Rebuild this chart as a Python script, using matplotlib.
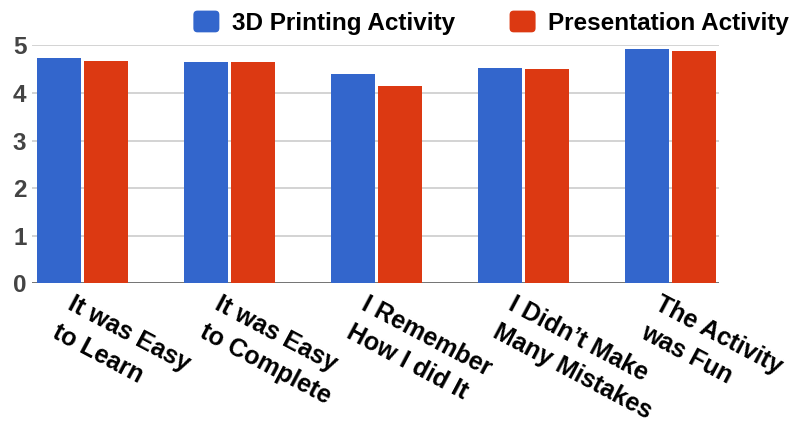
import matplotlib
matplotlib.use("Agg")
import matplotlib.pyplot as plt
import numpy as np
from matplotlib.patches import Patch, FancyBboxPatch
from matplotlib.legend_handler import HandlerPatch

categories = [
    "It was Easy\nto Learn",
    "It was Easy\nto Complete",
    "I Remember\nHow I did It",
    "I Didn\u2019t Make\nMany Mistakes",
    "The Activity\nwas Fun",
]
printing = [4.74, 4.64, 4.40, 4.53, 4.92]
presentation = [4.68, 4.64, 4.14, 4.50, 4.88]
series_names = ["3D Printing Activity", "Presentation Activity"]
y_ticks = [0, 1, 2, 3, 4, 5]

BLUE = "#3366cc"
RED = "#dc3912"
FONT = "Liberation Sans"


class RoundedBox(HandlerPatch):
    def create_artists(self, legend, orig_handle, xdescent, ydescent,
                       width, height, fontsize, trans):
        p = FancyBboxPatch((-xdescent, -ydescent), width, height,
                           boxstyle="round,pad=0,rounding_size=3",
                           facecolor=orig_handle.get_facecolor(),
                           edgecolor="none", transform=trans)
        return [p]


fig = plt.figure(figsize=(7.99, 4.24), dpi=100)
ax = fig.add_axes([0.040, 0.332, 0.860, 0.561])

x = np.arange(len(categories))
width = 0.30
ax.bar(x - 0.16, printing, width, color=BLUE, zorder=3)
ax.bar(x + 0.16, presentation, width, color=RED, zorder=3)

ax.set_xlim(-0.347, 4.332)
ax.set_ylim(0, 5)
ax.set_yticks(y_ticks)
ax.set_yticklabels([str(t) for t in y_ticks], fontfamily=FONT,
                   fontweight="bold", fontsize=17.5, color="#444444")
ax.tick_params(axis="y", length=0, pad=4)
ax.set_xticks([])
for s in ax.spines.values():
    s.set_visible(False)

for t in y_ticks[1:]:
    ax.axhline(t, color="#cccccc", lw=1.2, zorder=1)
ax.axhline(0, color="#666666", lw=2, zorder=2)

# rotated category labels hanging below each group
for i, lab in enumerate(categories):
    ax.annotate(lab, xy=(i, 0), xycoords=("data", "axes fraction"),
                xytext=(-8, -9), textcoords="offset pixels",
                rotation=-28, rotation_mode="anchor", ha="left", va="top",
                fontfamily=FONT, fontweight="bold", fontsize=18,
                color="black", linespacing=1.4, annotation_clip=False)

handles = [Patch(facecolor=BLUE, edgecolor="none"),
           Patch(facecolor=RED, edgecolor="none")]
fig.legend(handles, series_names, loc="upper right",
           bbox_to_anchor=(0.987, 0.975), ncol=2, frameon=False,
           prop={"family": FONT, "weight": "bold", "size": 17.5},
           handlelength=1.07, handleheight=1.0, handletextpad=0.5,
           columnspacing=2.26, borderpad=0, borderaxespad=0,
           handler_map={Patch: RoundedBox()})

fig.savefig("out.png", dpi=100)
